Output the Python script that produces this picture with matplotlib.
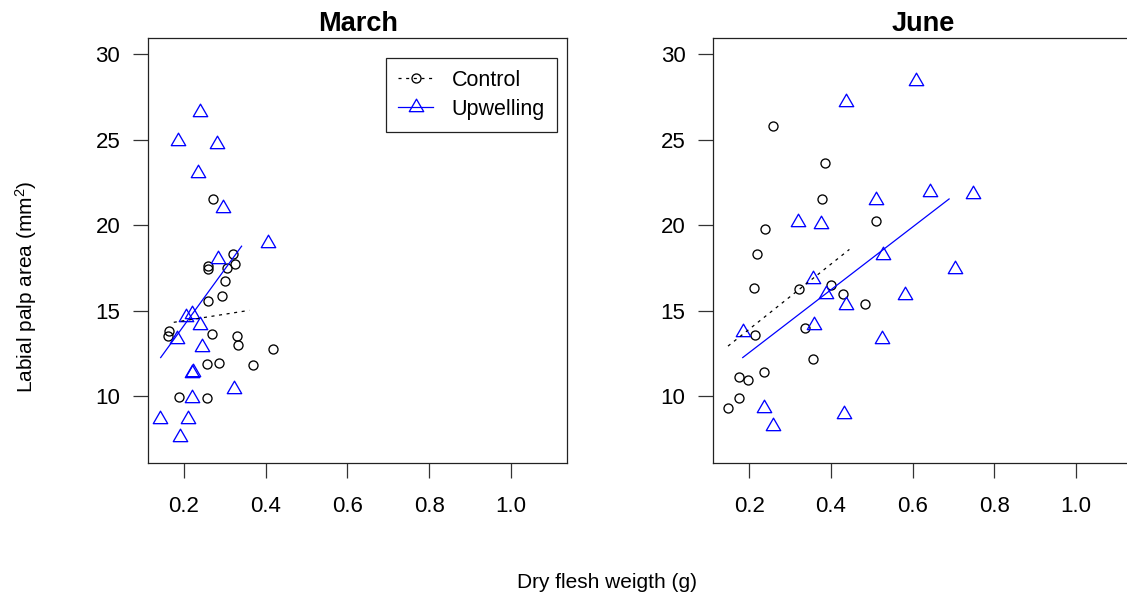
import matplotlib
matplotlib.use("Agg")
import matplotlib.pyplot as plt
import numpy as np
from matplotlib.path import Path
from matplotlib.lines import Line2D

plt.rcParams["font.family"] = ["Liberation Sans", "DejaVu Sans"]
plt.rcParams["mathtext.fontset"] = "custom"
plt.rcParams["mathtext.rm"] = "Liberation Sans"
plt.rcParams["mathtext.it"] = "Liberation Sans:italic"
plt.rcParams["mathtext.default"] = "regular"
plt.rcParams["lines.scale_dashes"] = False

# --- March ---------------------------------------------------------------
march_ctrl_x = [0.272, 0.319, 0.325, 0.259, 0.259, 0.306, 0.300, 0.294, 0.259, 0.269,
                0.164, 0.162, 0.329, 0.333, 0.417, 0.256, 0.286, 0.370, 0.189, 0.256]
march_ctrl_y = [21.53, 18.34, 17.70, 17.64, 17.41, 17.51, 16.73, 15.85, 15.56, 13.66,
                13.81, 13.52, 13.50, 12.98, 12.78, 11.88, 11.97, 11.81, 9.98, 9.87]

march_up_x = [0.239, 0.185, 0.282, 0.234, 0.296, 0.406, 0.284, 0.205, 0.220, 0.240,
              0.183, 0.243, 0.220, 0.222, 0.323, 0.219, 0.141, 0.211, 0.190]
march_up_y = [26.59, 24.94, 24.74, 23.05, 21.03, 18.93, 18.03, 14.61, 14.78, 14.19,
              13.35, 12.90, 11.38, 11.42, 10.41, 9.92, 8.66, 8.66, 7.59]

# regression lines (end points)
march_ctrl_fit_x = [0.175, 0.360]
march_ctrl_fit_y = [14.32, 15.02]
march_up_fit_x = [0.143, 0.341]
march_up_fit_y = [12.26, 18.77]

# --- June ----------------------------------------------------------------
june_ctrl_x = [0.259, 0.386, 0.377, 0.511, 0.239, 0.219, 0.211, 0.321, 0.400, 0.430,
               0.484, 0.337, 0.213, 0.355, 0.237, 0.176, 0.197, 0.175, 0.148]
june_ctrl_y = [25.81, 23.63, 21.55, 20.27, 19.78, 18.34, 16.34, 16.24, 16.48, 15.95,
               15.37, 14.01, 13.58, 12.16, 11.42, 11.13, 10.93, 9.88, 9.32]

june_up_x = [0.437, 0.609, 0.510, 0.642, 0.747, 0.319, 0.376, 0.528, 0.703, 0.355,
             0.388, 0.581, 0.437, 0.359, 0.184, 0.524, 0.237, 0.432, 0.259]
june_up_y = [27.17, 28.45, 21.48, 21.94, 21.84, 20.17, 20.08, 18.24, 17.45, 16.87,
             15.99, 15.93, 15.33, 14.14, 13.75, 13.33, 9.34, 8.95, 8.25]

june_ctrl_fit_x = [0.148, 0.445]
june_ctrl_fit_y = [12.93, 18.58]
june_up_fit_x = [0.184, 0.689]
june_up_fit_y = [12.26, 21.53]

x_ticks = [0.2, 0.4, 0.6, 0.8, 1.0]
y_ticks = [10, 15, 20, 25, 30]

# equilateral "up" triangle centred on its centroid
tri = Path([(0, 1.155), (1, -0.577), (-1, -0.577), (0, 1.155)],
           [Path.MOVETO, Path.LINETO, Path.LINETO, Path.CLOSEPOLY])

W, H = 1127, 598
fig = plt.figure(figsize=(W / 100, H / 100), dpi=100)
ax_w, ax_h = 419.3 / W, 425 / H
ax_b = 1 - 463.3 / H
ax1 = fig.add_axes([148 / W, ax_b, ax_w, ax_h])
ax2 = fig.add_axes([713.3 / W, ax_b, ax_w, ax_h])


def draw_panel(ax, title, cx, cy, ux, uy, cfx, cfy, ufx, ufy):
    ax.plot(cx, cy, ls="none", marker="o", ms=6.5, mfc="none", mec="black", mew=0.95)
    ax.plot(ux, uy, ls="none", marker=tri, ms=12, mfc="none", mec="blue", mew=0.95)
    ax.plot(cfx, cfy, color="black", lw=0.9, ls=(0, (2.2, 3.3)))
    ax.plot(ufx, ufy, color="blue", lw=0.9)

    # R-style 4% padding around xlim = (0.15, 1.1), ylim = (7, 30)
    ax.set_xlim(0.15 - 0.038, 1.1 + 0.038)
    ax.set_ylim(7 - 0.92, 30 + 0.92)
    ax.set_xticks(x_ticks)
    ax.set_xticklabels([f"{t:.1f}" for t in x_ticks])
    ax.set_yticks(y_ticks)
    ax.tick_params(axis="both", length=10.5, width=0.9, labelsize=16, color="#333333")
    ax.tick_params(axis="x", pad=13)
    ax.tick_params(axis="y", pad=9.5)
    for s in ax.spines.values():
        s.set_linewidth(0.9)
        s.set_color("#222222")
    ax.text(0.5, 1 + 14.5 / 425, title, transform=ax.transAxes, ha="center",
            va="center", fontsize=19.5, fontweight="bold")


draw_panel(ax1, "March", march_ctrl_x, march_ctrl_y, march_up_x, march_up_y,
           march_ctrl_fit_x, march_ctrl_fit_y, march_up_fit_x, march_up_fit_y)
draw_panel(ax2, "June", june_ctrl_x, june_ctrl_y, june_up_x, june_up_y,
           june_ctrl_fit_x, june_ctrl_fit_y, june_up_fit_x, june_up_fit_y)

handles = [
    Line2D([], [], color="black", lw=0.9, ls=(0, (2.2, 3.3)), marker="o", ms=6.5,
           mfc="none", mec="black", mew=0.95),
    Line2D([], [], color="blue", lw=0.9, marker=tri, ms=12, mfc="none",
           mec="blue", mew=0.95),
]
leg = ax1.legend(handles, ["Control", "Upwelling"], loc="upper right",
                 bbox_to_anchor=(1 - 10.6 / 419.3, 1 - 19.5 / 425), borderaxespad=0,
                 fancybox=False, edgecolor="#222222", framealpha=1, fontsize=15.5,
                 handlelength=1.65, handletextpad=0.85, labelspacing=0.38,
                 borderpad=0.55, numpoints=1)
leg.get_frame().set_linewidth(0.9)

fig.text(607 / W, 1 - 583 / H, "Dry flesh weigth (g)", ha="center", va="center",
         fontsize=15)
fig.text(26 / W, 1 - 287 / H, "Labial palp area (mm$^2$)", ha="center", va="center",
         rotation=90, fontsize=15)

fig.savefig("out.png", dpi=100)
